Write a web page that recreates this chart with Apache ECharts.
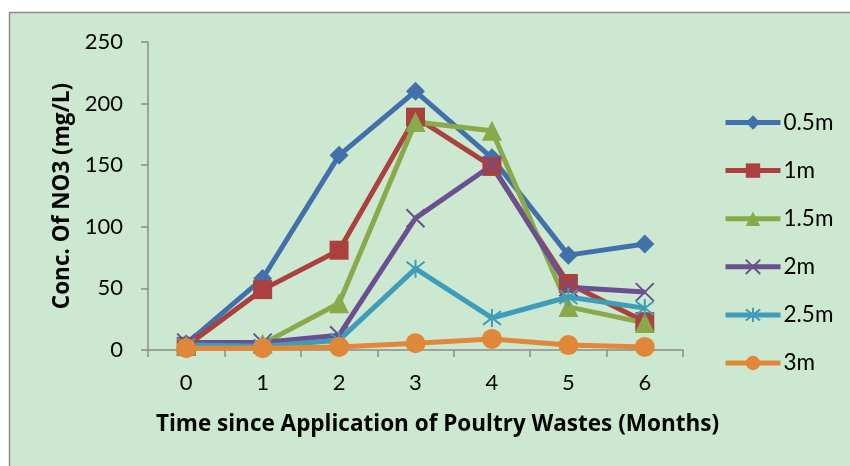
<!DOCTYPE html>
<html>
<head>
<meta charset="utf-8">
<script src="https://cdn.jsdelivr.net/npm/echarts@6/dist/echarts.min.js"></script>
<style>html,body{margin:0;padding:0;background:#fff;}#c{width:850px;height:466px;}</style>
</head>
<body>
<div id="c"></div>
<script>
const categories = ['0', '1', '2', '3', '4', '5', '6'];
const seriesNames = ['0.5m', '1m', '1.5m', '2m', '2.5m', '3m'];
const s05 = [5, 58, 158, 210, 156, 77, 86];
const s1 = [3, 49, 81, 189, 149, 54, 23];
const s15 = [4, 5, 38, 185, 178, 35, 22];
const s2 = [6, 6, 12, 107, 150, 51, 47];
const s25 = [4, 3, 8, 66, 26, 43, 34];
const s3 = [1.5, 1.5, 2.5, 5.5, 9, 4, 2.5];
const yTicks = [0, 50, 100, 150, 200, 250];

const colors = ['#4170AA', '#AA413E', '#89A94A', '#6B5090', '#3F9DB9', '#E0873A'];
const xPath = 'path://M0,0L10,10M10,0L0,10';
const starPath = 'path://M0,0L10,10M10,0L0,10M5,-1.5L5,11.5';
const symbols = ['diamond', 'rect', 'triangle', xPath, starPath, 'circle'];
const sizes = [19, 19, 20, 18, 18, 20];
const dataSets = [s05, s1, s15, s2, s25, s3];

const chart = echarts.init(document.getElementById('c'), null, {renderer: 'canvas'});
const font = 'Lato, "Open Sans", sans-serif';
const titleFont = '"Open Sans", Lato, sans-serif';

const series = seriesNames.map((name, i) => {
  const isStroke = i === 3 || i === 4;
  return {
    name: name,
    type: 'line',
    data: dataSets[i],
    symbol: symbols[i],
    symbolSize: sizes[i],
    showAllSymbol: true,
    color: colors[i],
    lineStyle: {width: 5, color: colors[i]},
    itemStyle: isStroke
      ? {color: 'rgba(0,0,0,0)', borderColor: colors[i], borderWidth: 2}
      : {color: colors[i], borderWidth: 0},
    emphasis: {disabled: true},
    animation: false
  };
});

chart.setOption({
  backgroundColor: '#ffffff',
  animation: false,
  graphic: [{
    type: 'rect',
    z: -10,
    silent: true,
    shape: {x: 9.5, y: 12.5, width: 850, height: 460},
    style: {fill: '#CDE8D0', stroke: '#8C8C8C', lineWidth: 1.5}
  }],
  grid: {left: 148, top: 42, right: 167, bottom: 116},
  legend: {
    orient: 'vertical',
    left: 723,
    top: 111,
    padding: 0,
    itemGap: 25.1,
    itemWidth: 55,
    itemHeight: 18,
    data: seriesNames,
    lineStyle: {width: 5},
    textStyle: {fontFamily: font, fontSize: 22.5, color: '#000', lineHeight: 20, padding: [2, 0, 0, -2]},
    selectedMode: false
  },
  xAxis: {
    type: 'category',
    data: categories,
    boundaryGap: true,
    axisLine: {lineStyle: {color: '#8C8C8C', width: 1.5}},
    axisTick: {show: true, length: 7, lineStyle: {color: '#8C8C8C', width: 1.5}},
    axisLabel: {fontFamily: font, fontSize: 22, color: '#000', margin: 22},
    name: 'Time since Application of Poultry Wastes (Months)',
    nameLocation: 'middle',
    nameGap: 63,
    nameTextStyle: {fontFamily: titleFont, fontSize: 22.5, fontWeight: 'bold', color: '#000', padding: [0, 0, 0, 44]}
  },
  yAxis: {
    type: 'value',
    min: 0,
    max: 250,
    interval: 50,
    splitLine: {show: false},
    axisLine: {show: true, lineStyle: {color: '#8C8C8C', width: 1.5}},
    axisTick: {show: true, length: 7, lineStyle: {color: '#8C8C8C', width: 1.5}},
    axisLabel: {fontFamily: font, fontSize: 22, color: '#000', margin: 25,
      formatter: v => yTicks.includes(v) ? String(v) : ''},
    name: 'Conc. Of NO3 (mg/L)',
    nameLocation: 'middle',
    nameGap: 72,
    nameTextStyle: {fontFamily: titleFont, fontSize: 22.5, fontWeight: 'bold', color: '#000'}
  },
  series: series
});
</script>
</body>
</html>
